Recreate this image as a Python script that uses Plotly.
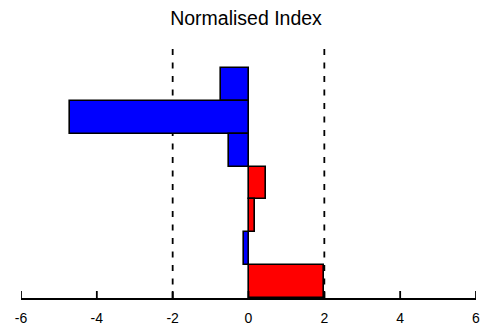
import plotly.graph_objects as go

# bars listed top to bottom
categories = ["A", "B", "C", "D", "E", "F", "G"]
values = [-0.73, -4.71, -0.51, 0.46, 0.17, -0.13, 2.0]
colors = ["#0000FF", "#0000FF", "#0000FF", "#FF0000", "#FF0000", "#0000FF", "#FF0000"]
thresholds = [-2, 2]
x_ticks = [-6, -4, -2, 0, 2, 4, 6]

fig = go.Figure()
fig.add_trace(go.Bar(
    x=values, y=categories, orientation="h",
    marker=dict(color=colors, line=dict(color="black", width=1.6)),
    width=1.0,
))

for t in thresholds:
    fig.add_shape(type="line", xref="x", yref="paper", x0=t, x1=t, y0=0, y1=1,
                  line=dict(color="black", width=1.8, dash="6px,7.5px"), layer="below")

# inward tick marks drawn at each tick value
for t in x_ticks:
    fig.add_shape(type="line", xref="x", yref="paper", ysizemode="pixel", yanchor=0,
                  x0=t, x1=t, y0=0, y1=7,
                  line=dict(color="black", width=1.8), layer="above")

fig.update_layout(
    width=492, height=325,
    margin=dict(l=21, r=16, t=42, b=27, autoexpand=False),
    paper_bgcolor="white", plot_bgcolor="white",
    showlegend=False, bargap=0,
    font=dict(family="Liberation Sans, Arial, sans-serif", color="black", size=14),
    title=dict(text="Normalised Index", x=0.5, xanchor="center", y=0.945, yanchor="middle",
               font=dict(size=19.5, color="black")),
    xaxis=dict(range=[-6, 6], tickvals=x_ticks, ticktext=[str(v) for v in x_ticks],
               showline=True, linecolor="black", linewidth=1.6,
               ticks="", ticklabelstandoff=6, layer="above traces",
               showgrid=False, zeroline=False, tickfont=dict(size=14), automargin=False),
    yaxis=dict(type="category", categoryorder="array", categoryarray=categories[::-1],
               range=[-0.5, 7.29], visible=False, showgrid=False, zeroline=False,
               automargin=False),
)

fig.write_html("out.html")
